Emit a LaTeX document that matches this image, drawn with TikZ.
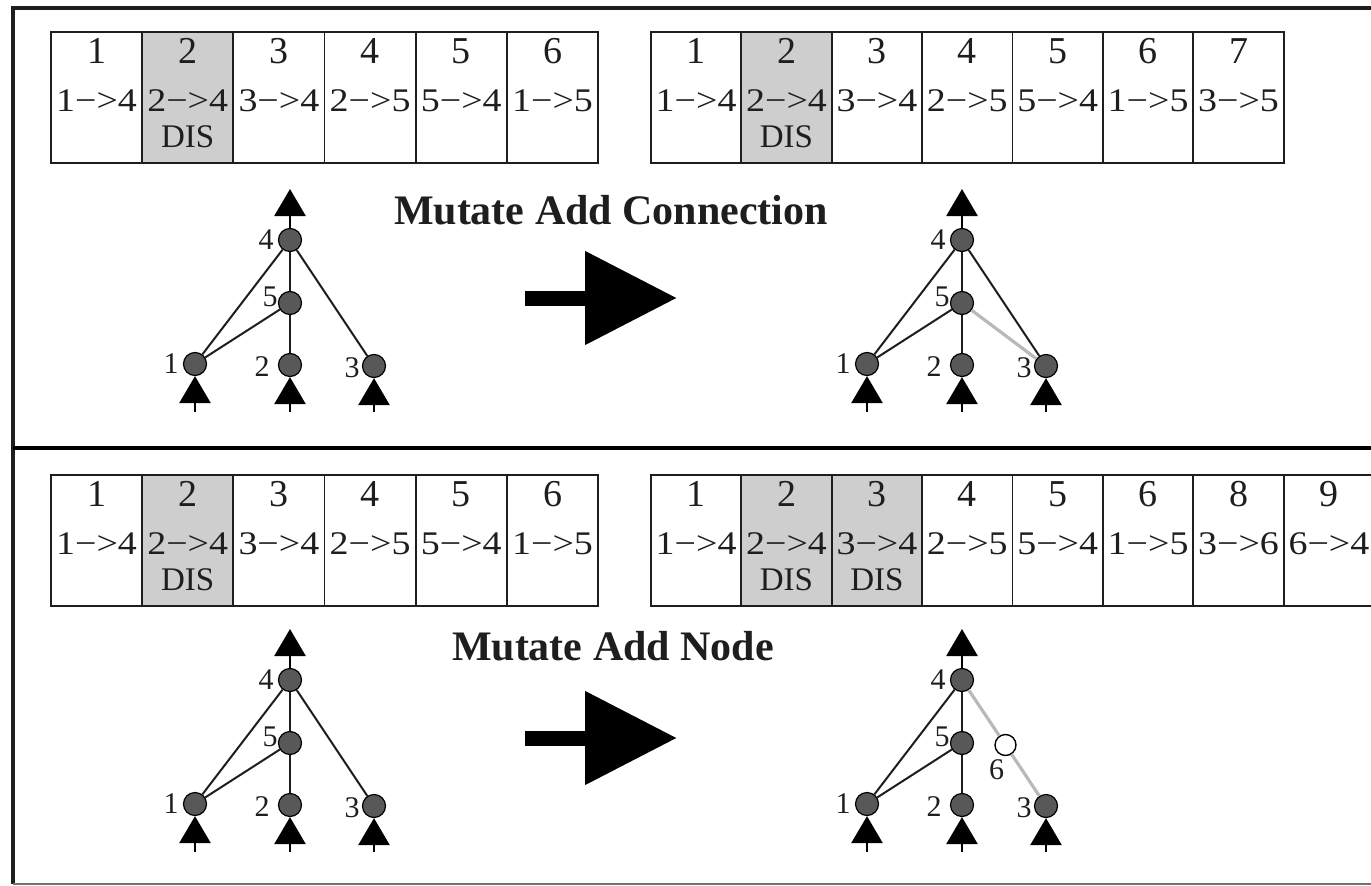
\documentclass[tikz,border=0pt]{standalone}
\usepackage{fontspec}
\setmainfont{Liberation Serif}
\newfontfamily\widefont[FakeStretch=1.15]{Liberation Serif}
\usetikzlibrary{arrows.meta}
\definecolor{disgray}{RGB}{206,206,206}
\definecolor{nodegray}{RGB}{88,88,88}
\definecolor{newgray}{RGB}{185,185,185}
\definecolor{ink}{RGB}{30,30,30}
\newcommand\gene[7]{% name, x, y, width, number, connection, style
  \node[cell, minimum width=#4pt, #7] (#1) at (#2,#3) {};
  \node[numtxt] (#1n) at ([yshift=-32pt]#1.north) {#5};
  \node[contxt] (#1c) at ([yshift=-80pt]#1.north) {#6};
}
\newcommand\netbase[1]{%
  \node[net, label={[lbl]left:4}] (#1n4) at (290,240) {};
  \node[net, label={[lbl,yshift=6pt,label distance=0pt]left:5}] (#1n5) at (290,303) {};
  \node[net, label={[lbl]left:1}] (#1n1) at (195,364) {};
  \node[net, label={[lbl,yshift=-2pt,label distance=8pt]left:2}] (#1n2) at (290,365) {};
  \node[net, label={[lbl,yshift=-2pt,label distance=2pt]left:3}] (#1n3) at (374,366) {};
  \coordinate (#1o) at (290,189);
  \coordinate (#1i1) at (195,412);
  \coordinate (#1i2) at (290,412);
  \coordinate (#1i3) at (374,412);
  \draw[io] (#1n4) -- (#1o);
  \draw[io] (#1i1) -- (#1n1);
  \draw[io] (#1i2) -- (#1n2);
  \draw[io] (#1i3) -- (#1n3);
  \draw[edge] (#1n1) -- (#1n4);
  \draw[edge] (#1n1) -- (#1n5);
  \draw[edge] (#1n2) -- (#1n5);
  \draw[edge] (#1n5) -- (#1n4);
}
\begin{document}
\begin{tikzpicture}[x=1pt,y=-1pt,
  cell/.style={draw=ink, line width=1.8pt, minimum height=131pt, inner sep=0pt, anchor=north west},
  dis/.style={fill=disgray},
  plain/.style={fill=white},
  numtxt/.style={font=\fontsize{38}{38}\selectfont, text=ink, anchor=base, inner sep=0pt},
  contxt/.style={font=\widefont\fontsize{33}{33}\selectfont, text=ink, anchor=base, inner sep=0pt},
  distxt/.style={font=\fontsize{33}{33}\selectfont, text=ink, anchor=base, inner sep=0pt},
  net/.style={circle, draw=black, line width=1.2pt, fill=nodegray, minimum size=23pt, inner sep=0pt},
  hid/.style={circle, draw=black, line width=1.4pt, fill=white, minimum size=21pt, inner sep=0pt},
  lbl/.style={font=\fontsize{30}{30}\selectfont, text=ink, inner sep=0pt, label distance=4pt},
  edge/.style={line width=2pt, draw=ink},
  newedge/.style={line width=3.2pt, draw=newgray},
  io/.style={line width=2.6pt, draw=black, -{Triangle[width=31pt,length=27pt]}},
  big/.style={line width=15pt, draw=black, -{Triangle[width=90pt,length=92pt]}},
  title/.style={font=\fontsize{42}{42}\selectfont\bfseries, text=ink, anchor=base, inner sep=0pt}
]
\useasboundingbox (0,0) rectangle (1371,886);
\fill[white] (0,0) rectangle (1371,886);
% frame
\draw[line width=3.5pt, draw=ink] (1371,8) -- (13,8) -- (13,884);
\draw[line width=2pt, draw=black!55] (13,884) -- (1371,884);
\draw[line width=4.5pt, draw=black] (13,448) -- (1371,448);

% ---------- top-left genome ----------
\gene{ga1}{50}{31}{91.2}{1}{1−>4}{plain}
\gene{ga2}{141.2}{31}{91.2}{2}{2−>4}{dis}
\gene{ga3}{232.4}{31}{91.2}{3}{3−>4}{plain}
\gene{ga4}{323.6}{31}{91.2}{4}{2−>5}{plain}
\gene{ga5}{414.8}{31}{91.2}{5}{5−>4}{plain}
\gene{ga6}{506}{31}{91.2}{6}{1−>5}{plain}
\node[distxt] (ga2d) at ([yshift=-116pt]ga2.north) {DIS};

% ---------- top-right genome ----------
\gene{gb1}{650}{31}{90.4}{1}{1−>4}{plain}
\gene{gb2}{740.4}{31}{90.4}{2}{2−>4}{dis}
\gene{gb3}{830.8}{31}{90.4}{3}{3−>4}{plain}
\gene{gb4}{921.2}{31}{90.4}{4}{2−>5}{plain}
\gene{gb5}{1011.6}{31}{90.4}{5}{5−>4}{plain}
\gene{gb6}{1102}{31}{90.4}{6}{1−>5}{plain}
\gene{gb7}{1192.4}{31}{90.4}{7}{3−>5}{plain}
\node[distxt] (gb2d) at ([yshift=-116pt]gb2.north) {DIS};

% ---------- bottom-left genome ----------
\gene{gc1}{50}{474}{91.2}{1}{1−>4}{plain}
\gene{gc2}{141.2}{474}{91.2}{2}{2−>4}{dis}
\gene{gc3}{232.4}{474}{91.2}{3}{3−>4}{plain}
\gene{gc4}{323.6}{474}{91.2}{4}{2−>5}{plain}
\gene{gc5}{414.8}{474}{91.2}{5}{5−>4}{plain}
\gene{gc6}{506}{474}{91.2}{6}{1−>5}{plain}
\node[distxt] (gc2d) at ([yshift=-116pt]gc2.north) {DIS};

% ---------- bottom-right genome ----------
\gene{gd1}{650}{474}{90.4}{1}{1−>4}{plain}
\gene{gd2}{740.4}{474}{90.4}{2}{2−>4}{dis}
\gene{gd3}{830.8}{474}{90.4}{3}{3−>4}{dis}
\gene{gd4}{921.2}{474}{90.4}{4}{2−>5}{plain}
\gene{gd5}{1011.6}{474}{90.4}{5}{5−>4}{plain}
\gene{gd6}{1102}{474}{90.4}{6}{1−>5}{plain}
\gene{gd7}{1192.4}{474}{90.4}{8}{3−>6}{plain}
\gene{gd8}{1282.8}{474}{90.4}{9}{6−>4}{plain}
\node[distxt] (gd2d) at ([yshift=-116pt]gd2.north) {DIS};
\node[distxt] (gd3d) at ([yshift=-116pt]gd3.north) {DIS};

% ---------- titles ----------
\node[title] (t1) at (611,224) {Mutate Add Connection};
\node[title] (t2) at (613,660) {Mutate Add Node};

% ---------- big arrows ----------
\coordinate (ba1) at (525,298);
\coordinate (ba2) at (677,298);
\draw[big] (ba1) -- (ba2);
\coordinate (bb1) at (525,738);
\coordinate (bb2) at (677,738);
\draw[big] (bb1) -- (bb2);

% ---------- networks ----------
\netbase{a}
\draw[edge] (an3) -- (an4);

\begin{scope}[shift={(672,0)}]
\netbase{b}
\draw[edge] (bn3) -- (bn4);
\draw[newedge] (bn5) -- (bn3);
\end{scope}

\begin{scope}[shift={(0,440)}]
\netbase{c}
\draw[edge] (cn3) -- (cn4);
\end{scope}

\begin{scope}[shift={(672,440)}]
\netbase{d}
\node[hid, label={[lbl,xshift=-9pt,label distance=3pt]below:6}] (dn6) at (333.5,305) {};
\draw[newedge] (dn4) -- (dn6);
\draw[newedge] (dn6) -- (dn3);
\end{scope}
\end{tikzpicture}
\end{document}
